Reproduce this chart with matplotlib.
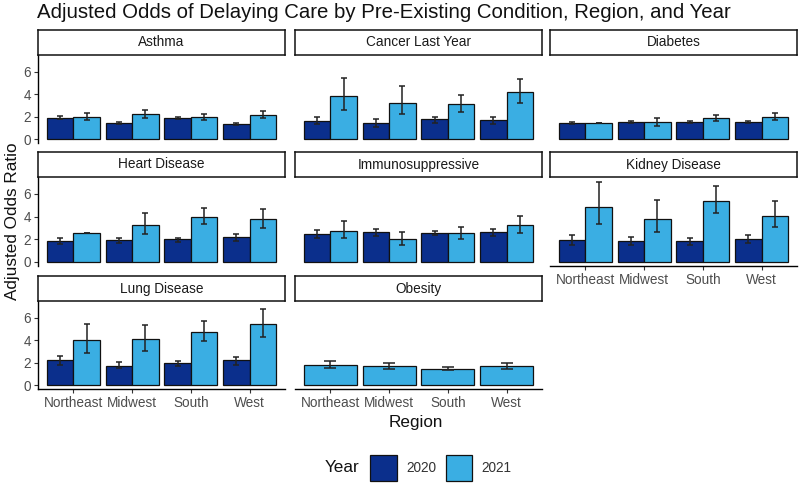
import numpy as np
import matplotlib.pyplot as plt
import matplotlib.patches as mpatches

plt.rcParams['font.family'] = ['Liberation Sans', 'DejaVu Sans']

# data
conditions = ['Asthma', 'Cancer Last Year', 'Diabetes',
              'Heart Disease', 'Immunosuppressive', 'Kidney Disease',
              'Lung Disease', 'Obesity']
regions = ['Northeast', 'Midwest', 'South', 'West']

or_2020 = [[1.90, 1.40, 1.88, 1.35],
           [1.64, 1.40, 1.76, 1.67],
           [1.43, 1.52, 1.52, 1.52],
           [1.87, 1.93, 2.00, 2.17],
           [2.46, 2.64, 2.52, 2.64],
           [1.93, 1.87, 1.87, 2.00],
           [2.24, 1.74, 2.00, 2.24],
           None]
lo_2020 = [[1.75, 1.30, 1.78, 1.25],
           [1.30, 1.10, 1.46, 1.30],
           [1.35, 1.45, 1.45, 1.45],
           [1.57, 1.63, 1.78, 1.87],
           [2.08, 2.28, 2.34, 2.28],
           [1.48, 1.48, 1.54, 1.63],
           [1.82, 1.50, 1.74, 1.82],
           None]
hi_2020 = [[2.05, 1.50, 1.98, 1.45],
           [2.00, 1.76, 1.95, 1.95],
           [1.55, 1.60, 1.60, 1.60],
           [2.13, 2.15, 2.15, 2.47],
           [2.82, 2.94, 2.76, 2.94],
           [2.37, 2.23, 2.13, 2.37],
           [2.56, 2.06, 2.18, 2.53],
           None]

or_2021 = [[1.95, 2.20, 2.00, 2.15],
           [3.80, 3.25, 3.13, 4.20],
           [1.43, 1.50, 1.88, 2.00],
           [2.58, 3.27, 4.00, 3.77],
           [2.76, 2.00, 2.52, 3.23],
           [4.84, 3.83, 5.40, 4.10],
           [4.00, 4.10, 4.74, 5.47],
           [1.80, 1.68, 1.47, 1.70]]
lo_2021 = [[1.70, 1.85, 1.70, 1.85],
           [2.60, 2.20, 2.45, 3.20],
           [1.43, 1.20, 1.64, 1.70],
           [2.58, 2.43, 3.35, 3.00],
           [2.08, 1.48, 2.00, 2.58],
           [3.35, 2.67, 4.30, 3.10],
           [2.90, 3.06, 3.90, 4.30],
           [1.53, 1.41, 1.30, 1.47]]
hi_2021 = [[2.30, 2.60, 2.25, 2.50],
           [5.45, 4.70, 3.90, 5.40],
           [1.43, 1.90, 2.15, 2.36],
           [2.58, 4.30, 4.75, 4.65],
           [3.60, 2.67, 3.05, 4.06],
           [7.10, 5.50, 6.68, 5.34],
           [5.47, 5.40, 5.70, 6.80],
           [2.15, 1.94, 1.65, 1.97]]

c2020 = '#0b2f8c'
c2021 = '#3aaee3'
W, H = 799, 487

fig = plt.figure(figsize=(W / 100, H / 100), dpi=100)

def box(l, t, r, b):
    return [l / W, 1 - b / H, (r - l) / W, (b - t) / H]

cols = [(38, 285), (295, 542), (550, 797)]
panel_rows = [(55, 143), (177, 266), (301, 389)]
strip_rows = [(30, 55), (152, 177), (276, 301)]
xlab_panels = [5, 6, 7]

x = np.arange(len(regions))
for i, cond in enumerate(conditions):
    r, c = divmod(i, 3)
    l, rr = cols[c]
    t, b = panel_rows[r]
    ax = fig.add_axes(box(l, t, rr, b))
    if or_2020[i] is None:
        e = [np.subtract(or_2021[i], lo_2021[i]), np.subtract(hi_2021[i], or_2021[i])]
        ax.bar(x, or_2021[i], 0.9, color=c2021, edgecolor='#111111', lw=0.9, zorder=2)
        ax.errorbar(x, or_2021[i], yerr=e, fmt='none', ecolor='#222222',
                    elinewidth=1.1, capsize=4.5, capthick=1.1, zorder=3)
    else:
        e0 = [np.subtract(or_2020[i], lo_2020[i]), np.subtract(hi_2020[i], or_2020[i])]
        e1 = [np.subtract(or_2021[i], lo_2021[i]), np.subtract(hi_2021[i], or_2021[i])]
        ax.bar(x - 0.225, or_2020[i], 0.45, color=c2020, edgecolor='#111111', lw=0.9, zorder=2)
        ax.bar(x + 0.225, or_2021[i], 0.45, color=c2021, edgecolor='#111111', lw=0.9, zorder=2)
        ax.errorbar(x - 0.225, or_2020[i], yerr=e0, fmt='none', ecolor='#222222',
                    elinewidth=1.1, capsize=2.4, capthick=1.1, zorder=3)
        ax.errorbar(x + 0.225, or_2021[i], yerr=e1, fmt='none', ecolor='#222222',
                    elinewidth=1.1, capsize=2.4, capthick=1.1, zorder=3)
    ax.set_xlim(-0.6, 3.6)
    ax.set_ylim(-0.357, 7.5)
    for s in ['top', 'right']:
        ax.spines[s].set_visible(False)
    ax.set_yticks([0, 2, 4, 6])
    ax.set_xticks(x)
    ax.tick_params(colors='#333333', labelcolor='#4d4d4d', labelsize=9.8,
                   length=3, width=0.8, pad=2)
    if c == 0:
        ax.spines['left'].set_linewidth(1.0)
    else:
        ax.spines['left'].set_visible(False)
        ax.tick_params(axis='y', left=False, labelleft=False)
    if i in xlab_panels:
        ax.set_xticklabels(regions)
        ax.spines['bottom'].set_linewidth(1.0)
    else:
        ax.spines['bottom'].set_visible(False)
        ax.tick_params(axis='x', bottom=False, labelbottom=False)

    st, sb = strip_rows[r]
    sax = fig.add_axes(box(l, st, rr, sb))
    sax.set_xticks([])
    sax.set_yticks([])
    for s in sax.spines.values():
        s.set_linewidth(1.1)
        s.set_color('#111111')
    sax.text(0.5, 0.5, cond, ha='center', va='center', fontsize=9.8,
             color='#1a1a1a', transform=sax.transAxes)

fig.text(37 / W, 1 - 13 / H, 'Adjusted Odds of Delaying Care by Pre-Existing Condition, Region, and Year',
         ha='left', va='center', fontsize=14.7, color='#111111')
fig.text(13 / W, 1 - 221 / H, 'Adjusted Odds Ratio', rotation=90,
         ha='center', va='center', fontsize=12.3, color='#111111')
fig.text(416 / W, 1 - 422 / H, 'Region', ha='center', va='center',
         fontsize=12.3, color='#111111')

fig.text(342 / W, 1 - 468 / H, 'Year', ha='center', va='center',
         fontsize=12.3, color='#111111')
handles = [mpatches.Patch(facecolor=c2020, edgecolor='#111111', lw=0.9, label='2020'),
           mpatches.Patch(facecolor=c2021, edgecolor='#111111', lw=0.9, label='2021')]
fig.legend(handles=handles, loc='center left', bbox_to_anchor=(370 / W, 1 - 468 / H),
           ncol=2, frameon=False, fontsize=9.8, handlelength=1.95, handleheight=2.5,
           handletextpad=0.7, columnspacing=0.7, borderpad=0, borderaxespad=0,
           labelcolor='#333333')

fig.savefig('out.png', dpi=100)
